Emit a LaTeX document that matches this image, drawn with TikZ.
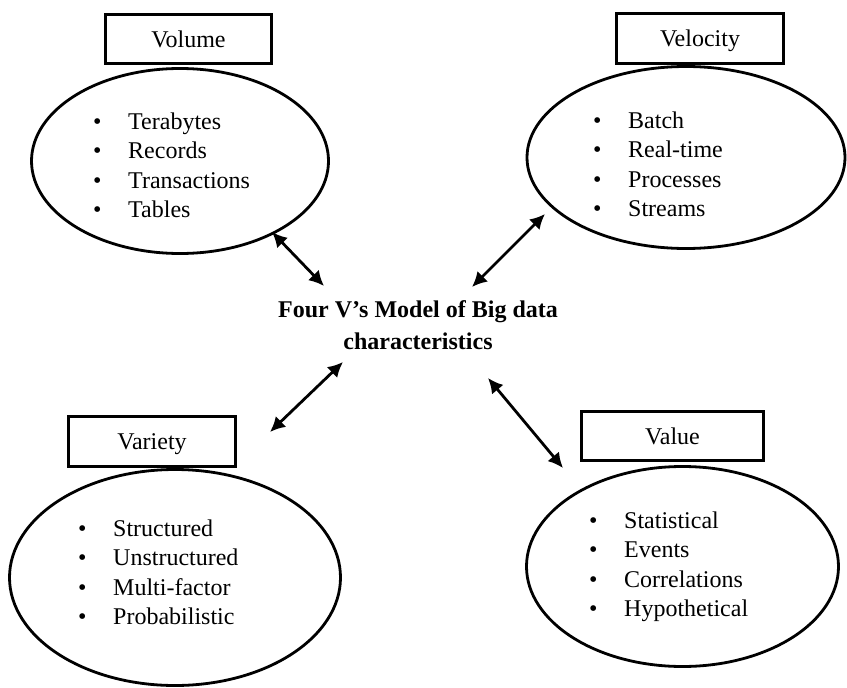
\documentclass[tikz,border=0pt]{standalone}
\usepackage{fontspec}
\setmainfont{Liberation Serif}
\usetikzlibrary{shapes.geometric,arrows.meta}

\newcommand{\vitem}[1]{\makebox[35pt][l]{\textbullet}#1}

\begin{document}
\begin{tikzpicture}[x=1pt,y=-1pt,
  vbox/.style={draw,line width=2.8pt,inner sep=0pt,text height=16pt,text depth=0pt,
    font=\fontsize{24}{29}\selectfont},
  voval/.style={draw,ellipse,line width=2.8pt,inner sep=0pt},
  vlist/.style={anchor=base west,inner sep=0pt,
    font=\fontsize{24}{29.5}\selectfont},
  dbl/.style={line width=2.8pt,{Latex[length=15pt,width=15pt]}-{Latex[length=15pt,width=15pt]}}
]
\useasboundingbox (0,0) rectangle (847,688);

% title in the middle
\node[anchor=base,inner sep=0pt,font=\bfseries\fontsize{24}{32}\selectfont] (title) at (418,317)
  {\begin{tabular}[t]{@{}c@{}}Four V’s Model of Big data\\characteristics\end{tabular}};

% Volume
\node[voval,minimum width=297pt,minimum height=185pt] (volE) at (180,161) {};
\node[vbox,minimum width=166pt,minimum height=49pt] (volB) at (188.5,39) {Volume};
\node[vlist] (volL) at (93,129) {\begin{tabular}[t]{@{}l@{}}\vitem{Terabytes}\\\vitem{Records}\\\vitem{Transactions}\\\vitem{Tables}\end{tabular}};

% Velocity
\node[voval,minimum width=318pt,minimum height=182pt] (velE) at (686,157.5) {};
\node[vbox,minimum width=167pt,minimum height=50pt] (velB) at (700,38.5) {Velocity};
\node[vlist] (velL) at (593,128) {\begin{tabular}[t]{@{}l@{}}\vitem{Batch}\\\vitem{Real-time}\\\vitem{Processes}\\\vitem{Streams}\end{tabular}};

% Variety
\node[voval,minimum width=331pt,minimum height=216pt] (varE) at (175,577.5) {};
\node[vbox,minimum width=167pt,minimum height=50pt] (varB) at (152,441.5) {Variety};
\node[vlist] (varL) at (78,536) {\begin{tabular}[t]{@{}l@{}}\vitem{Structured}\\\vitem{Unstructured}\\\vitem{Multi-factor}\\\vitem{Probabilistic}\end{tabular}};

% Value
\node[voval,minimum width=312pt,minimum height=200pt] (valE) at (682.5,566.5) {};
\node[vbox,minimum width=182pt,minimum height=49pt] (valB) at (672.5,436) {Value};
\node[vlist] (valL) at (589,528) {\begin{tabular}[t]{@{}l@{}}\vitem{Statistical}\\\vitem{Events}\\\vitem{Correlations}\\\vitem{Hypothetical}\end{tabular}};

% connector ends
\coordinate (volA) at (272,232);
\coordinate (volZ) at (324,286);
\coordinate (velA) at (472,287);
\coordinate (velZ) at (545,214);
\coordinate (varA) at (270,432);
\coordinate (varZ) at (343,362);
\coordinate (valA) at (488,378);
\coordinate (valZ) at (563,468);

\draw[dbl] (volA) -- (volZ);
\draw[dbl] (velA) -- (velZ);
\draw[dbl] (varA) -- (varZ);
\draw[dbl] (valA) -- (valZ);
\end{tikzpicture}
\end{document}
